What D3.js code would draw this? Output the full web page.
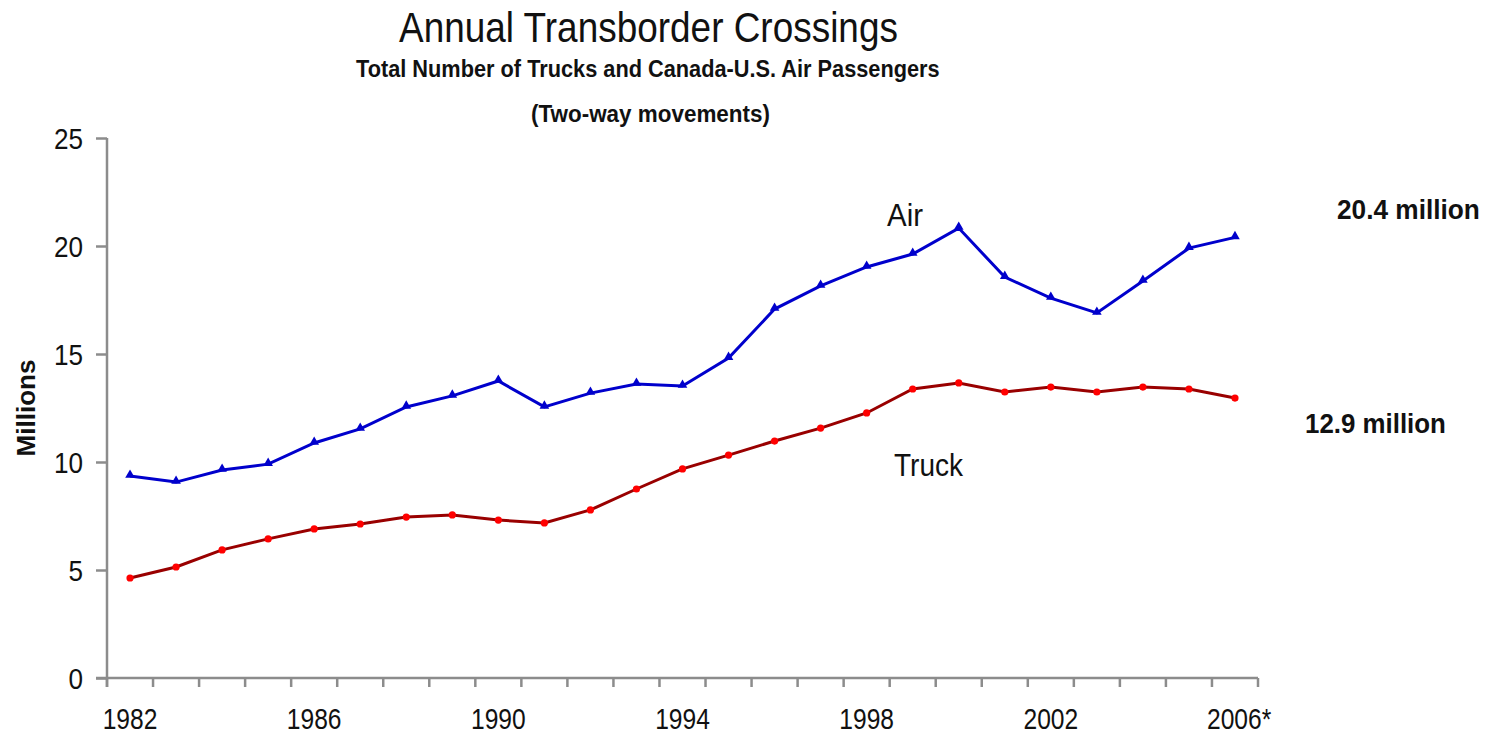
<!DOCTYPE html>
<html>
<head>
<meta charset="utf-8">
<script src="https://cdn.jsdelivr.net/npm/d3@7"></script>
<style>
  body { margin: 0; background: #fff; }
  text { font-family: "Liberation Sans", Arial, sans-serif; fill: #111; }
</style>
</head>
<body>
<div id="chart"></div>
<script>
var years = ["1982","1983","1984","1985","1986","1987","1988","1989","1990","1991","1992","1993",
  "1994","1995","1996","1997","1998","1999","2000","2001","2002","2003","2004","2005","2006"];
var labelYears = ["1982","1986","1990","1994","1998","2002","2006"];
var air = [9.35,9.07,9.63,9.9,10.88,11.53,12.55,13.06,13.75,12.55,13.19,13.61,
  13.52,14.81,17.08,18.15,19.03,19.63,20.83,18.56,17.59,16.9,18.38,19.9,20.4];
var truck = [4.63,5.14,5.93,6.44,6.9,7.13,7.45,7.55,7.31,7.18,7.78,8.75,
  9.68,10.32,10.97,11.57,12.27,13.38,13.66,13.24,13.47,13.24,13.47,13.38,12.96];
var yTicks = [0,5,10,15,20,25];

var svgWidth = 1496;
var svgHeight = 737;
var margin = {top: 138, right: 238, bottom: 59, left: 107};
var width = svgWidth - margin.left - margin.right;
var height = svgHeight - margin.top - margin.bottom;

var svg = d3.select("#chart")
  .append("svg")
  .attr("width", svgWidth)
  .attr("height", svgHeight);

// narrow text: either squeeze to a given width or by a fixed factor
function narrow(parent, o) {
  var t = parent.append("text")
    .attr("font-size", o.size + "px")
    .attr("font-weight", o.weight || "normal")
    .text(o.text);
  var len = t.node().getComputedTextLength();
  var s = o.width ? o.width / len : (o.sx || 0.85);
  var w = len * s;
  var left = o.anchor === "middle" ? o.x - w / 2 : (o.anchor === "end" ? o.x - w : o.x);
  t.attr("transform", `translate(${left}, ${o.y}) scale(${s}, 1)`);
  return t;
}

var chartGroup = svg.append("g")
  .attr("transform", `translate(${margin.left}, ${margin.top})`);

var x = d3.scaleBand()
  .domain(years)
  .range([0, width]);

var y = d3.scaleLinear()
  .domain([0, 25])
  .range([height, 0]);

var cx = function(i) { return x(years[i]) + x.bandwidth() / 2; };

// y axis
var leftAxis = d3.axisLeft(y).tickValues(yTicks).tickSize(11).tickFormat("");
var gy = chartGroup.append("g").call(leftAxis);
gy.select(".domain").remove();
gy.append("line").attr("x1", 0).attr("x2", 0).attr("y1", 0).attr("y2", height + 9);
gy.selectAll("line").attr("stroke", "#8c8c8c").attr("stroke-width", 2.5);
yTicks.forEach(function(v) {
  narrow(chartGroup, {text: String(v), x: -24, y: y(v) + 10.5, size: 29, sx: 0.9, anchor: "end"});
});

// x axis: ticks at band boundaries, labels under every fourth year
var gx = chartGroup.append("g").attr("transform", `translate(0, ${height})`);
gx.append("line").attr("x1", -11).attr("x2", width).attr("y1", 0).attr("y2", 0);
gx.selectAll(".tk")
  .data(years.concat(["end"]))
  .enter()
  .append("line")
  .attr("class", "tk")
  .attr("x1", (d, i) => i * x.step())
  .attr("x2", (d, i) => i * x.step())
  .attr("y1", 0)
  .attr("y2", 9);
gx.selectAll("line").attr("stroke", "#8c8c8c").attr("stroke-width", 2.5);
labelYears.forEach(function(d) {
  var c = x(d) + x.bandwidth() / 2;
  if (d === "2006") {
    narrow(chartGroup, {text: "2006*", x: c - 28, y: height + 51, size: 30, sx: 0.82, anchor: "start"});
  } else {
    narrow(chartGroup, {text: d, x: c, y: height + 51, size: 30, sx: 0.82, anchor: "middle"});
  }
});

// lines
var line = d3.line()
  .x((d, i) => cx(i))
  .y(d => y(d));

chartGroup.append("path")
  .datum(truck)
  .attr("fill", "none")
  .attr("stroke", "#990000")
  .attr("stroke-width", 3)
  .attr("d", line);

chartGroup.selectAll(".truckPt")
  .data(truck)
  .enter()
  .append("circle")
  .attr("class", "truckPt")
  .attr("cx", (d, i) => cx(i))
  .attr("cy", d => y(d))
  .attr("r", 3.6)
  .attr("fill", "#ff0000");

chartGroup.append("path")
  .datum(air)
  .attr("fill", "none")
  .attr("stroke", "#0000cc")
  .attr("stroke-width", 3)
  .attr("d", line);

var tri = d3.symbol().type(d3.symbolTriangle).size(40);
chartGroup.selectAll(".airPt")
  .data(air)
  .enter()
  .append("path")
  .attr("class", "airPt")
  .attr("d", tri)
  .attr("transform", (d, i) => `translate(${cx(i)}, ${y(d) - 1})`)
  .attr("fill", "#0000cc");

// series labels
narrow(svg, {text: "Air", x: 887, y: 226, size: 31, width: 36});
narrow(svg, {text: "Truck", x: 894, y: 476, size: 32, width: 69});
narrow(svg, {text: "20.4 million", x: 1337, y: 219, size: 27, weight: "bold", width: 143});
narrow(svg, {text: "12.9 million", x: 1305, y: 433, size: 27, weight: "bold", width: 141});

// titles
narrow(svg, {text: "Annual Transborder Crossings", x: 399, y: 42, size: 42, width: 499});
narrow(svg, {text: "Total Number of Trucks and Canada-U.S. Air Passengers", x: 356, y: 77, size: 23, weight: "bold", width: 584});
narrow(svg, {text: "(Two-way movements)", x: 531, y: 122, size: 23, weight: "bold", width: 239});

svg.append("text")
  .attr("transform", "rotate(-90)")
  .attr("x", -408).attr("y", 35)
  .attr("text-anchor", "middle")
  .attr("font-size", "26px")
  .attr("font-weight", "bold")
  .text("Millions");
</script>
</body>
</html>
